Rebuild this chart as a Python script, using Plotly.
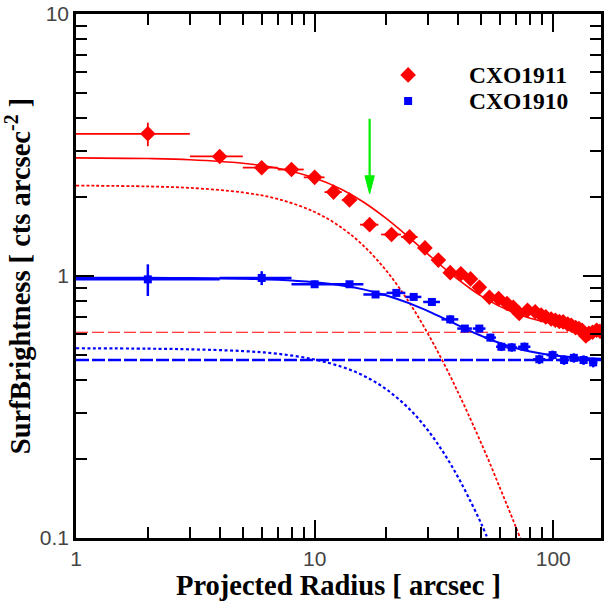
import plotly.graph_objects as go

# ---- CXO1911 surface-brightness profile (red) ----
r1911 = [2, 4, 6, 8, 10, 12, 14, 17, 21, 25, 29, 33, 37, 41, 45, 49, 54, 59, 64, 68,
         72, 78, 84, 89, 93, 98, 102, 106, 110, 115, 119, 124, 128, 132, 137, 141, 146, 152, 157]
sb1911 = [3.49, 2.86, 2.59, 2.55, 2.38, 2.09, 1.95, 1.57, 1.44, 1.41, 1.28, 1.15, 1.03, 1.02,
          0.975, 0.905, 0.83, 0.82, 0.785, 0.76, 0.72, 0.74, 0.73, 0.71, 0.698, 0.685, 0.678,
          0.67, 0.668, 0.655, 0.649, 0.635, 0.63, 0.621, 0.59, 0.604, 0.61, 0.621, 0.615]
r1911_err = [1, 1, 1, 1, 1, 1, 1, 1.5, 2, 2, 2, 2, 2, 2, 2, 2, 2.5, 2.5, 2.5, 2.5,
             3, 3, 3, 3, 3, 3, 3, 3, 3, 3, 3, 3, 3, 3, 3, 3, 3, 3, 3]
sb1911_err = [0.36, 0.12, 0.09, 0.08, 0.08, 0.07, 0.06, 0.06, 0.05, 0.05, 0.04, 0.04, 0.04,
              0.04, 0.04, 0.03, 0.03, 0.03, 0.03, 0.03, 0.03, 0.03, 0.03, 0.03, 0.03, 0.03,
              0.03, 0.03, 0.03, 0.03, 0.03, 0.03, 0.03, 0.03, 0.03, 0.03, 0.03, 0.03, 0.03]

# ---- CXO1910 surface-brightness profile (blue) ----
r1910 = [2, 6, 10, 14, 18, 22, 26, 31, 37, 42.6, 49, 54.5, 60.6, 67, 75.7, 87.4, 99.3,
         111, 122, 134, 147]
sb1910 = [0.971, 0.983, 0.93, 0.93, 0.85, 0.862, 0.832, 0.796, 0.683, 0.63, 0.63, 0.582,
          0.537, 0.534, 0.537, 0.481, 0.499, 0.478, 0.487, 0.478, 0.468]
r1910_err_minus = [1, 2, 2, 2, 2, 2, 2, 2.5, 3, 3, 3, 3, 3, 3.5, 4.5, 5, 5.5, 6, 6, 6, 6]
r1910_err_plus = [2, 2, 2, 2, 2, 2, 2, 2.5, 3, 3, 3, 3, 3, 3.5, 4.5, 5, 5.5, 6, 6, 6, 6]
sb1910_err_plus = [0.137, 0.06, 0.03, 0.025, 0.025, 0.025, 0.025, 0.025, 0.025, 0.02, 0.02,
                   0.02, 0.02, 0.02, 0.02, 0.02, 0.02, 0.02, 0.02, 0.02, 0.02]
sb1910_err_minus = [0.132, 0.06, 0.03, 0.025, 0.025, 0.025, 0.025, 0.025, 0.025, 0.02, 0.02,
                    0.02, 0.02, 0.02, 0.02, 0.02, 0.02, 0.02, 0.02, 0.02, 0.02]

# ---- beta-model fits: total, beta component, background ----
r_total = [1, 2, 3, 5, 7, 10, 13, 16, 20, 25, 30, 35, 40, 45, 50, 55, 60, 70, 80, 100, 130, 160]
fit1911_total = [2.824, 2.807, 2.779, 2.694, 2.578, 2.365, 2.137, 1.916, 1.655, 1.397, 1.207,
                 1.069, 0.968, 0.894, 0.838, 0.797, 0.764, 0.719, 0.690, 0.658, 0.635, 0.625]
fit1910_total = [0.985, 0.984, 0.982, 0.976, 0.967, 0.946, 0.920, 0.889, 0.843, 0.786, 0.733,
                 0.687, 0.648, 0.616, 0.591, 0.570, 0.554, 0.530, 0.515, 0.498, 0.487, 0.483]

r_beta1911 = [1, 2, 3, 5, 7, 10, 13, 16, 20, 25, 30, 35, 40, 45, 50, 55, 60, 65, 70, 75]
fit1911_beta = [2.214, 2.197, 2.169, 2.084, 1.968, 1.755, 1.527, 1.306, 1.046, 0.788, 0.597,
                0.459, 0.358, 0.284, 0.229, 0.187, 0.154, 0.129, 0.109, 0.093]
r_beta1910 = [1, 2, 3, 5, 7, 10, 13, 16, 20, 25, 30, 35, 40, 45, 50, 55]
fit1910_beta = [0.530, 0.528, 0.525, 0.517, 0.505, 0.480, 0.450, 0.417, 0.369, 0.310, 0.256,
                0.209, 0.170, 0.138, 0.113, 0.092]

r_bkg = [1, 160]
bkg1911 = 0.61
bkg1910 = 0.478

# marker for the radius of interest
arrow_r = 17
arrow_top = 3.98
arrow_tip = 2.06

legend_labels = ["CXO1911", "CXO1910"]

# axis ticks
x_major = [1, 10, 100]
x_major_text = ["1", "10", "100"]
y_major = [0.1, 1, 10]
y_major_text = ["0.1", "1", "10"]
x_minor = [2, 3, 4, 5, 6, 7, 8, 9, 20, 30, 40, 50, 60, 70, 80, 90]
y_minor = [0.2, 0.3, 0.4, 0.5, 0.6, 0.7, 0.8, 0.9, 2, 3, 4, 5, 6, 7, 8, 9]

RED = "#ff0000"
BLUE = "#0000ff"
GREEN = "#00ee00"

X_RANGE = [0, 2.2]     # log10 of 1 .. ~158 arcsec
Y_RANGE = [-1, 1]      # log10 of 0.1 .. 10

MARGIN = dict(l=76, r=2, t=13, b=74)
PLOT_W = 606 - MARGIN["l"] - MARGIN["r"]
PLOT_H = 612 - MARGIN["t"] - MARGIN["b"]
px_per_dex_x = PLOT_W / (X_RANGE[1] - X_RANGE[0])
px_per_dex_y = PLOT_H / (Y_RANGE[1] - Y_RANGE[0])


def frac_to_x(f):
    return 10 ** (X_RANGE[0] + f * (X_RANGE[1] - X_RANGE[0]))


def frac_to_y(f):
    return 10 ** (Y_RANGE[0] + f * (Y_RANGE[1] - Y_RANGE[0]))


fig = go.Figure()

# fitted components
fig.add_trace(go.Scatter(x=r_bkg, y=[bkg1911, bkg1911], mode="lines",
                         line=dict(color=RED, width=1.2, dash="12px,4px")))
fig.add_trace(go.Scatter(x=r_bkg, y=[bkg1910, bkg1910], mode="lines",
                         line=dict(color=BLUE, width=2.5, dash="13px,3px")))
fig.add_trace(go.Scatter(x=r_beta1911, y=fit1911_beta, mode="lines", line_shape="spline",
                         line=dict(color=RED, width=1.8, dash="3px,2px")))
fig.add_trace(go.Scatter(x=r_beta1910, y=fit1910_beta, mode="lines", line_shape="spline",
                         line=dict(color=BLUE, width=2.2, dash="3px,2.5px")))
fig.add_trace(go.Scatter(x=r_total, y=fit1911_total, mode="lines", line_shape="spline",
                         line=dict(color=RED, width=1.6)))
fig.add_trace(go.Scatter(x=r_total, y=fit1910_total, mode="lines", line_shape="spline",
                         line=dict(color=BLUE, width=2)))

# data points
fig.add_trace(go.Scatter(
    x=r1911, y=sb1911, mode="markers",
    marker=dict(symbol="diamond", size=12, color=RED),
    error_x=dict(type="data", array=r1911_err, color=RED, thickness=1.8, width=0),
    error_y=dict(type="data", array=sb1911_err, color=RED, thickness=1.8, width=0),
))
fig.add_trace(go.Scatter(
    x=r1910, y=sb1910, mode="markers",
    marker=dict(symbol="square", size=8, color=BLUE),
    error_x=dict(type="data", array=r1910_err_plus, arrayminus=r1910_err_minus,
                 color=BLUE, thickness=2.5, width=0),
    error_y=dict(type="data", array=sb1910_err_plus, arrayminus=sb1910_err_minus,
                 color=BLUE, thickness=2.5, width=0),
))

# green arrow: shaft plus a narrow filled head
head_len_px = 18
head_half_px = 4.7
head_base = arrow_tip * 10 ** (head_len_px / px_per_dex_y)
half = 10 ** (head_half_px / px_per_dex_x)
fig.add_trace(go.Scatter(x=[arrow_r, arrow_r], y=[arrow_top, head_base], mode="lines",
                         line=dict(color=GREEN, width=2.2)))
fig.add_trace(go.Scatter(x=[arrow_r / half, arrow_r * half, arrow_r, arrow_r / half],
                         y=[head_base, head_base, arrow_tip, head_base],
                         mode="lines", fill="toself", fillcolor=GREEN,
                         line=dict(color=GREEN, width=1)))

# legend keys placed by fraction of the plot area
key_fx = 0.6326
text_fx = 0.744
key_fy = [0.8838, 0.834]
fig.add_trace(go.Scatter(x=[frac_to_x(key_fx)], y=[frac_to_y(key_fy[0])], mode="markers",
                         marker=dict(symbol="diamond", size=12, color=RED)))
fig.add_trace(go.Scatter(x=[frac_to_x(key_fx)], y=[frac_to_y(key_fy[1])], mode="markers",
                         marker=dict(symbol="square", size=8, color=BLUE)))

legend_font = dict(family="Liberation Serif, Times New Roman, serif", size=23.5,
                   color="black", weight="bold")
for label, fy in zip(legend_labels, key_fy):
    fig.add_annotation(x=text_fx, y=fy, xref="x domain", yref="y domain", text=label,
                       showarrow=False, xanchor="left", yanchor="middle", font=legend_font)

tick_font = dict(family="Liberation Sans, Arial, sans-serif", size=21, color="#444444")
title_font = dict(family="Liberation Serif, Times New Roman, serif", size=28.5,
                  color="black", weight="bold")

MAJOR_LEN = 18
MINOR_LEN = 11

axis_common = dict(
    type="log", showgrid=False, zeroline=False, showline=True, linecolor="black",
    linewidth=2.5, mirror="allticks", ticks="inside", ticklen=MAJOR_LEN, tickwidth=2,
    tickcolor="black", tickfont=tick_font, tickmode="array", layer="above traces",
)

fig.update_layout(
    width=606, height=612,
    margin=MARGIN,
    paper_bgcolor="white", plot_bgcolor="white",
    showlegend=False,
    xaxis=dict(
        range=X_RANGE, tickvals=x_major, ticktext=x_major_text,
        minor=dict(tickmode="array", tickvals=x_minor, ticks="inside", ticklen=MINOR_LEN,
                   tickwidth=2, tickcolor="black", showgrid=False),
        title=dict(text="Projected Radius [ arcsec ]", font=title_font, standoff=4),
        **axis_common,
    ),
    yaxis=dict(
        range=Y_RANGE, tickvals=y_major, ticktext=y_major_text,
        minor=dict(tickmode="array", tickvals=y_minor, ticks="inside", ticklen=MINOR_LEN,
                   tickwidth=2, tickcolor="black", showgrid=False),
        title=dict(text="SurfBrightness [ cts arcsec<sup>-2</sup> ]", font=title_font,
                   standoff=2),
        **axis_common,
    ),
)

fig.write_html("out.html")
